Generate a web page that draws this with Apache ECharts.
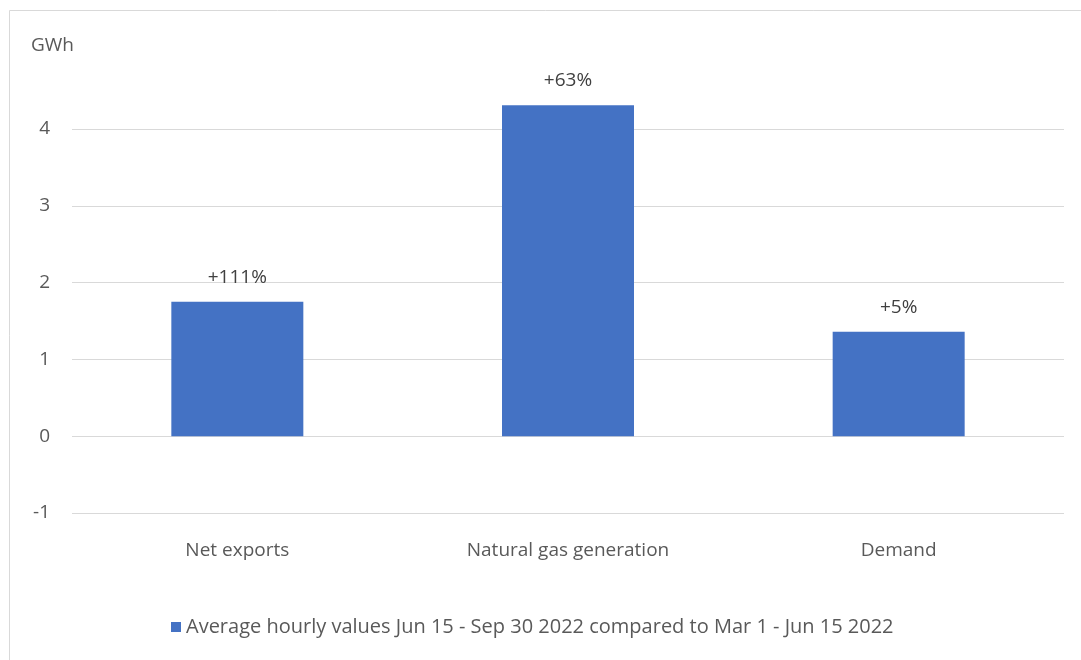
<!DOCTYPE html>
<html><head><meta charset="utf-8">
<script src="https://cdn.jsdelivr.net/npm/echarts@6/dist/echarts.min.js"></script>
<style>html,body{margin:0;padding:0;background:#fff}#c{width:1081px;height:660px}</style>
</head><body><div id="c"></div>
<script>
const categories = ['Net exports', 'Natural gas generation', 'Demand'];
const values = [1.75, 4.31, 1.36];
const changeLabels = ['+111%', '+63%', '+5%'];
const seriesName = 'Average hourly values Jun 15 - Sep 30 2022 compared to Mar 1 - Jun 15 2022';
const unitLabel = 'GWh';

const chart = echarts.init(document.getElementById('c'), null, {renderer: 'canvas'});
const font = '"Open Sans", "Liberation Sans", sans-serif';
chart.setOption({
  animation: false,
  backgroundColor: '#fff',
  graphic: [
    {type: 'rect', shape: {x: 9.5, y: 10.5, width: 1090, height: 670}, style: {fill: 'none', stroke: '#d9d9d9', lineWidth: 1}, silent: true},
    {type: 'text', left: 31, top: 36, style: {text: unitLabel, font: '19px ' + font, fill: '#595959'}}
  ],
  grid: {left: 72, right: 17, top: 129, bottom: 147},
  legend: {
    bottom: 18, left: 166,
    itemWidth: 10, itemHeight: 10, itemGap: 8,
    icon: 'rect',
    textStyle: {fontFamily: font, fontSize: 20, color: '#595959'},
    data: [seriesName]
  },
  xAxis: {
    type: 'category', data: categories,
    axisLine: {show: false}, axisTick: {show: false},
    axisLabel: {fontFamily: font, fontSize: 19, color: '#595959', margin: 28}
  },
  yAxis: {
    type: 'value', min: -1, max: 4, interval: 1,
    axisLine: {show: false}, axisTick: {show: false},
    axisLabel: {fontFamily: font, fontSize: 19, color: '#595959', margin: 22},
    splitLine: {lineStyle: {color: '#d9d9d9', width: 1}}
  },
  series: [{
    name: seriesName, type: 'bar', data: values, barWidth: 132, clip: false,
    itemStyle: {color: '#4472C4'},
    label: {
      show: true, position: 'top', distance: 15,
      fontFamily: font, fontSize: 19, color: '#404040',
      formatter: p => changeLabels[p.dataIndex]
    }
  }]
});
</script></body></html>
